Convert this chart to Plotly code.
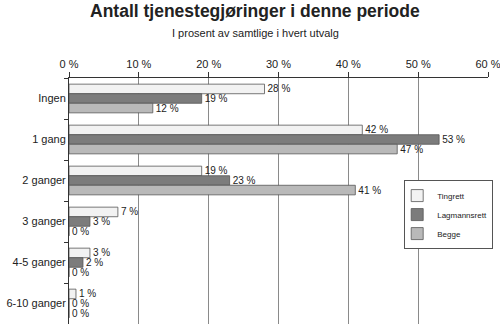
import plotly.graph_objects as go

categories = ["Ingen", "1 gang", "2 ganger", "3 ganger", "4-5 ganger", "6-10 ganger"]
tingrett = [28, 42, 19, 7, 3, 1]
lagmannsrett = [19, 53, 23, 3, 2, 0]
begge = [12, 47, 41, 0, 0, 0]
tick_vals = [0, 10, 20, 30, 40, 50, 60]

series = [
    ("Tingrett", tingrett, "#f2f2f2"),
    ("Lagmannsrett", lagmannsrett, "#7c7c7c"),
    ("Begge", begge, "#b9b9b9"),
]

fig = go.Figure()
for name, vals, col in series:
    fig.add_trace(go.Bar(
        y=categories, x=vals, name=name, orientation="h",
        marker=dict(color=col, line=dict(color="#555555", width=0.8)),
        text=[f"{v} %" for v in vals], textposition="outside",
        constraintext="none",
        textfont=dict(size=10, color="#222222"), cliponaxis=False,
    ))

font = "Liberation Sans, Arial, sans-serif"
fig.update_layout(
    width=500, height=328,
    margin=dict(l=69, r=12, t=78, b=4),
    paper_bgcolor="white", plot_bgcolor="white",
    barmode="group", bargap=0.3, bargroupgap=0,
    font=dict(family=font, size=11, color="#222222"),
    showlegend=True,
    legend=dict(x=0.8, y=0.585, xanchor="left", yanchor="top",
                bordercolor="#555555", borderwidth=1, bgcolor="white",
                font=dict(size=8), itemwidth=30, tracegroupgap=0,
                indentation=-8),
    annotations=[
        dict(text="<b>Antall tjenestegjøringer i denne periode</b>", xref="paper", yref="paper",
             x=0.445, y=1.0, yshift=67, showarrow=False, font=dict(size=17.5, family=font),
             xanchor="center", yanchor="middle"),
        dict(text="I prosent av samtlige i hvert utvalg", xref="paper", yref="paper",
             x=0.445, y=1.0, yshift=45, showarrow=False, font=dict(size=11, family=font),
             xanchor="center", yanchor="middle"),
    ],
)
fig.update_xaxes(
    side="top", range=[0, 60], tickvals=tick_vals, ticktext=[f"{v} %" for v in tick_vals],
    showgrid=True, gridcolor="#8a8a8a", gridwidth=1,
    showline=True, linecolor="#333333", linewidth=1,
    ticks="outside", ticklen=5, tickcolor="#333333", zeroline=False,
    tickfont=dict(size=11), ticklabeloverflow="allow", automargin=False,
)
fig.update_yaxes(
    autorange="reversed", showline=True, linecolor="#333333", linewidth=1,
    ticks="outside", ticklen=4, tickcolor="#333333", tickson="boundaries",
    tickfont=dict(size=11), showgrid=False, automargin=False,
)
fig.write_html("out.html")
